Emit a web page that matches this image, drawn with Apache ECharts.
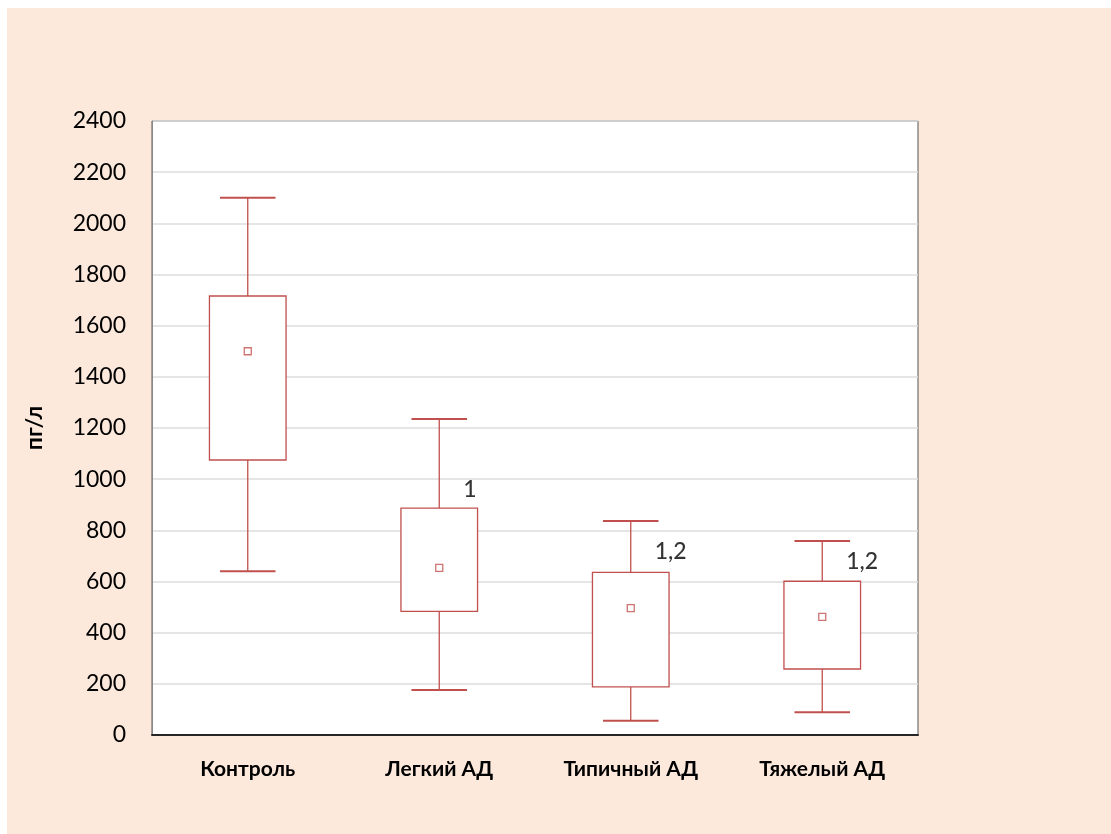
<!DOCTYPE html>
<html>
<head>
<meta charset="utf-8">
<script src="https://cdn.jsdelivr.net/npm/echarts@6/dist/echarts.min.js"></script>
<style>
  html, body { margin: 0; padding: 0; background: #ffffff; }
  #chart { width: 1111px; height: 834px; }
</style>
</head>
<body>
<div id="chart"></div>
<script>
// Groups on the x axis
var categories = ['Контроль', 'Легкий АД', 'Типичный АД', 'Тяжелый АД'];
// Whisker ends, box edges and mean, pg/l
var whiskerLow  = [640, 176, 56, 89];
var boxLow      = [1075, 483, 188, 258];
var boxHigh     = [1716, 887, 636, 601];
var whiskerHigh = [2100, 1235, 836, 758];
var means       = [1500, 653, 496, 462];
// Significance marks placed beside each box
var markText = ['', '1', '1,2', '1,2'];
var markY    = [null, 958, 717, 677];
// Y axis
var yMin = 0, yMax = 2400, yStep = 200;

var red = '#C0504D';
var font = 'Lato, "Liberation Sans", sans-serif';

var boxData = categories.map(function (c, i) {
  return [i, whiskerLow[i], boxLow[i], boxHigh[i], whiskerHigh[i]];
});
var meanData = categories.map(function (c, i) { return [i, means[i]]; });
var markData = [];
categories.forEach(function (c, i) {
  if (markText[i]) markData.push({ value: [i, markY[i]], name: markText[i] });
});

function renderBox(params, api) {
  var x = api.value(0);
  var pLow = api.coord([x, api.value(1)]);
  var pQ1 = api.coord([x, api.value(2)]);
  var pQ3 = api.coord([x, api.value(3)]);
  var pHigh = api.coord([x, api.value(4)]);
  var band = api.size([1, 0])[0];
  var bw = band * 0.40;
  var cw = band * 0.29;
  var cx = pLow[0];
  var ls = { stroke: red, lineWidth: 1.3, fill: null };
  return {
    type: 'group',
    children: [
      { type: 'line', shape: { x1: cx, y1: pHigh[1], x2: cx, y2: pQ3[1] }, style: ls },
      { type: 'line', shape: { x1: cx, y1: pQ1[1], x2: cx, y2: pLow[1] }, style: ls },
      { type: 'line', shape: { x1: cx - cw / 2, y1: pHigh[1], x2: cx + cw / 2, y2: pHigh[1] }, style: { stroke: red, lineWidth: 2 } },
      { type: 'line', shape: { x1: cx - cw / 2, y1: pLow[1], x2: cx + cw / 2, y2: pLow[1] }, style: { stroke: red, lineWidth: 2 } },
      { type: 'rect', shape: { x: cx - bw / 2, y: pQ3[1], width: bw, height: pQ1[1] - pQ3[1] },
        style: { stroke: red, lineWidth: 1.3, fill: '#ffffff' } }
    ]
  };
}

var chart = echarts.init(document.getElementById('chart'), null, { renderer: 'canvas' });
chart.setOption({
  backgroundColor: '#ffffff',
  animation: false,
  graphic: [{
    type: 'rect', left: 7, top: 8, z: -10,
    shape: { width: 1104, height: 826 },
    style: { fill: '#FCE9DB' }
  }],
  grid: {
    left: 152, top: 121, width: 766, height: 614,
    show: true, backgroundColor: '#ffffff', borderColor: '#555555', borderWidth: 1
  },
  xAxis: {
    type: 'category',
    data: categories,
    axisLine: { show: true, lineStyle: { color: '#262626', width: 2 } },
    axisTick: { show: false },
    axisLabel: { color: '#000000', fontFamily: font, fontWeight: 'bold', fontSize: 21, margin: 24 },
    splitLine: { show: false }
  },
  yAxis: {
    type: 'value',
    min: yMin, max: yMax, interval: yStep,
    name: 'пг/л',
    nameLocation: 'middle',
    nameGap: 106,
    nameRotate: 90,
    nameTextStyle: { color: '#000000', fontFamily: font, fontWeight: 'bold', fontSize: 23 },
    axisLine: { show: true, lineStyle: { color: '#888888', width: 1 } },
    axisTick: { show: false },
    axisLabel: {
      color: '#000000', fontFamily: font, fontSize: 23, margin: 26,
      formatter: function (v) { return String(v); }
    },
    splitLine: { show: true, lineStyle: { color: '#dcdcdc', width: 1.5 } }
  },
  series: [
    {
      type: 'custom',
      renderItem: renderBox,
      data: boxData,
      encode: { x: 0, y: [1, 2, 3, 4] },
      z: 2
    },
    {
      type: 'scatter',
      data: meanData,
      symbol: 'rect',
      symbolSize: 7,
      itemStyle: { color: '#ffffff', borderColor: red, borderWidth: 1.3 },
      z: 3
    },
    {
      type: 'scatter',
      data: markData,
      symbolSize: 0,
      label: {
        show: true,
        position: 'inside',
        align: 'left',
        verticalAlign: 'middle',
        offset: [24, 0],
        formatter: function (p) { return p.name; },
        color: '#000000',
        fontFamily: font,
        fontWeight: 500,
        fontSize: 23
      },
      z: 4
    }
  ]
});
</script>
</body>
</html>
